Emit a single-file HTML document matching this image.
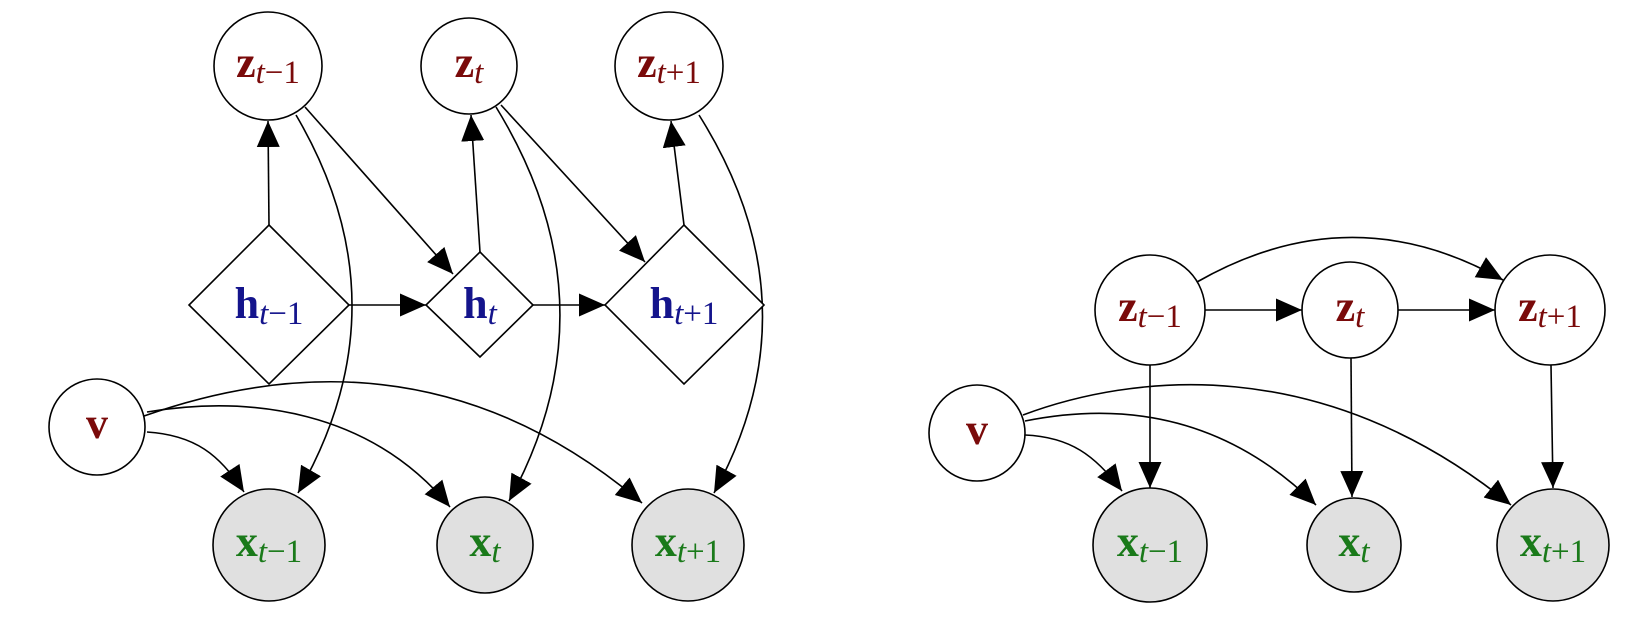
<!DOCTYPE html>
<html><head><meta charset="utf-8"><style>
html,body{margin:0;padding:0;background:#fff}
svg{display:block}
text{font-family:"Liberation Serif",serif;text-anchor:middle}
.b{font-weight:bold;font-size:44px}
.s{font-size:33px}
.i{font-style:italic}
.r{fill:#7a0a0a}.h{fill:#14148c}.g{fill:#1a7a1a}
</style></head><body>
<svg width="1652" height="628" viewBox="0 0 1652 628" xmlns="http://www.w3.org/2000/svg">
<defs><marker id="a" markerUnits="userSpaceOnUse" markerWidth="28" markerHeight="24" refX="26" refY="11.5" orient="auto"><path d="M0,0 L26,11.5 L0,23 z" fill="#000"/></marker></defs>
<g fill="none" stroke="#000" stroke-width="1.6" marker-end="url(#a)">
<line x1="269" y1="225" x2="268" y2="121"/>
<line x1="480" y1="252" x2="471" y2="115"/>
<line x1="684" y1="225" x2="671" y2="121"/>
<line x1="305" y1="107" x2="453" y2="274"/>
<line x1="501" y1="105" x2="645" y2="262"/>
<line x1="349" y1="305" x2="426" y2="305"/>
<line x1="533" y1="305" x2="605" y2="305"/>
<path d="M296,115 Q407,304 298,493"/>
<path d="M496,107 Q617,304 509,501"/>
<path d="M699,115 Q818,304 714,493"/>
<path d="M144,416 C260,375 450,340 642,503"/>
<path d="M147,412 C250,395 370,410 450,507"/>
<path d="M147,432 C195,435 220,455 244,492"/>
<line x1="1205" y1="310" x2="1302" y2="310"/>
<line x1="1398" y1="310" x2="1495" y2="310"/>
<path d="M1197,282 Q1351,194 1503,280"/>
<line x1="1150" y1="365" x2="1150" y2="488"/>
<line x1="1351" y1="358" x2="1352" y2="497"/>
<line x1="1551" y1="365" x2="1553" y2="488"/>
<path d="M1023,415 C1130,375 1320,350 1511,505"/>
<path d="M1025,421 C1130,400 1230,420 1316,505"/>
<path d="M1025,435 C1070,437 1095,455 1122,491"/>
</g>
<g stroke="#000" stroke-width="1.6">
<circle cx="268" cy="66" r="54" fill="#fff"/>
<circle cx="469" cy="66" r="48" fill="#fff"/>
<circle cx="669" cy="66" r="54" fill="#fff"/>
<polygon points="269,225 349,305 269,384 189,305" fill="#fff"/>
<polygon points="480,252 533,305 480,357 426,305" fill="#fff"/>
<polygon points="684,225 764,305 684,384 605,305" fill="#fff"/>
<circle cx="97" cy="427" r="48" fill="#fff"/>
<circle cx="269" cy="545" r="56" fill="#e0e0e0"/>
<circle cx="485" cy="545" r="48" fill="#e0e0e0"/>
<circle cx="688" cy="545" r="56" fill="#e0e0e0"/>
<circle cx="1150" cy="310" r="55" fill="#fff"/>
<circle cx="1350" cy="310" r="48" fill="#fff"/>
<circle cx="1550" cy="310" r="55" fill="#fff"/>
<circle cx="977" cy="433" r="48" fill="#fff"/>
<circle cx="1150" cy="545" r="57" fill="#e0e0e0"/>
<circle cx="1354" cy="545" r="47" fill="#e0e0e0"/>
<circle cx="1553" cy="545" r="56" fill="#e0e0e0"/>
</g>
<g>
<text x="268" y="77" class="r"><tspan class="b">z</tspan><tspan class="s" dy="6"><tspan class="i">t</tspan>−1</tspan></text>
<text x="469" y="77" class="r"><tspan class="b">z</tspan><tspan class="s i" dy="6">t</tspan></text>
<text x="669" y="77" class="r"><tspan class="b">z</tspan><tspan class="s" dy="6"><tspan class="i">t</tspan>+1</tspan></text>
<text x="269" y="318" class="h"><tspan class="b">h</tspan><tspan class="s" dy="6"><tspan class="i">t</tspan>−1</tspan></text>
<text x="480" y="318" class="h"><tspan class="b">h</tspan><tspan class="s i" dy="6">t</tspan></text>
<text x="684" y="318" class="h"><tspan class="b">h</tspan><tspan class="s" dy="6"><tspan class="i">t</tspan>+1</tspan></text>
<text x="97" y="438" class="r b">v</text>
<text x="269" y="556" class="g"><tspan class="b">x</tspan><tspan class="s" dy="6"><tspan class="i">t</tspan>−1</tspan></text>
<text x="485" y="556" class="g"><tspan class="b">x</tspan><tspan class="s i" dy="6">t</tspan></text>
<text x="688" y="556" class="g"><tspan class="b">x</tspan><tspan class="s" dy="6"><tspan class="i">t</tspan>+1</tspan></text>
<text x="1150" y="321" class="r"><tspan class="b">z</tspan><tspan class="s" dy="6"><tspan class="i">t</tspan>−1</tspan></text>
<text x="1350" y="321" class="r"><tspan class="b">z</tspan><tspan class="s i" dy="6">t</tspan></text>
<text x="1550" y="321" class="r"><tspan class="b">z</tspan><tspan class="s" dy="6"><tspan class="i">t</tspan>+1</tspan></text>
<text x="977" y="444" class="r b">v</text>
<text x="1150" y="556" class="g"><tspan class="b">x</tspan><tspan class="s" dy="6"><tspan class="i">t</tspan>−1</tspan></text>
<text x="1354" y="556" class="g"><tspan class="b">x</tspan><tspan class="s i" dy="6">t</tspan></text>
<text x="1553" y="556" class="g"><tspan class="b">x</tspan><tspan class="s" dy="6"><tspan class="i">t</tspan>+1</tspan></text>
</g>
</svg>
</body></html>
